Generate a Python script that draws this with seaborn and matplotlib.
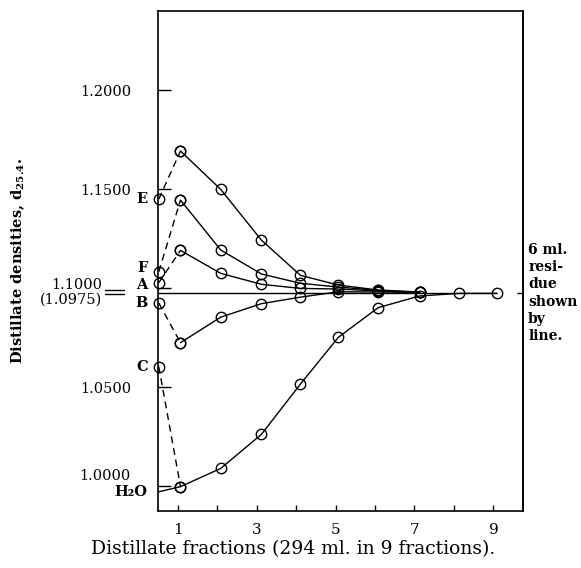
import matplotlib
matplotlib.use('Agg')
import matplotlib.pyplot as plt
import matplotlib.transforms as mtransforms
from matplotlib.lines import Line2D
import pandas as pd
import seaborn as sns

# --- values ---
fractions = [1.07, 2.09, 3.12, 4.11, 5.07, 6.08, 7.13, 8.13, 9.09]
start_x = 0.52  # the original samples sit on the axis
curve_names = ['E', 'F', 'A', 'B', 'C']
start_density = [1.1449, 1.1082, 1.1027, 1.0924, 1.0603]
dens_E = [1.1692, 1.1498, 1.1242, 1.1064, 1.1015, 1.0990, 1.0980]
dens_F = [1.1444, 1.1192, 1.1071, 1.1024, 1.1005, 1.0988, 1.0978]
dens_A = [1.1190, 1.1074, 1.1019, 1.0998, 1.0995, 1.0985, 1.0978]
dens_B = [1.0724, 1.0853, 1.0921, 1.0954, 1.0981, 1.0980, 1.0978]
dens_C = [0.9997, 1.0089, 1.0261, 1.0515, 1.0751, 1.0901, 1.0960, 1.0973, 1.0973]
water_density = 0.9971
residue_density = 1.0975
ytick_values = [1.0000, 1.0500, 1.1000, 1.1500, 1.2000]
ytick_labels = ['1.0000', '1.0500', '1.1000', '1.1500', '1.2000']
xtick_values = [1, 2, 3, 4, 5, 6, 7, 8, 9]
xtick_labels = ['1', '', '3', '', '5', '', '7', '', '9']

# --- long tables for seaborn ---
curves = [dens_E, dens_F, dens_A, dens_B, dens_C]
solid_rows, dash_rows = [], []
for name, s0, vals in zip(curve_names, start_density, curves):
    for x, v in zip(fractions, vals):
        solid_rows.append({'curve': name, 'fraction': x, 'density': v})
    dash_rows.append({'curve': name, 'fraction': start_x, 'density': s0})
    dash_rows.append({'curve': name, 'fraction': fractions[0], 'density': vals[0]})
solid_df = pd.DataFrame(solid_rows)
dash_df = pd.DataFrame(dash_rows)

sns.set_style('ticks')
plt.rcParams['font.family'] = ['DejaVu Serif', 'DejaVu Sans']
plt.rcParams['mathtext.fontset'] = 'dejavuserif'
for key in ['text.color', 'axes.labelcolor', 'xtick.color', 'ytick.color', 'axes.edgecolor']:
    plt.rcParams[key] = 'black'

fig = plt.figure(figsize=(5.81, 5.68), dpi=100)
ax = fig.add_axes([158 / 581, 57 / 568, 365 / 581, 500 / 568])

line_kw = dict(color='black', lw=1.0, clip_on=False, legend=False, ax=ax)
mark_kw = dict(marker='o', ms=7.5, mfc='none', mec='black', mew=1.0)

# residue line
ax.hlines(residue_density, 0.5, fractions[-1], color='black', lw=1.0)

sns.lineplot(data=solid_df, x='fraction', y='density', units='curve',
             estimator=None, **line_kw, **mark_kw)
sns.lineplot(data=dash_df, x='fraction', y='density', units='curve',
             estimator=None, linestyle=(0, (5, 3.5)), **line_kw, **mark_kw)
sns.lineplot(x=[start_x, fractions[0]], y=[water_density, dens_C[0]], **line_kw)

ax.set_xlim(0.5, 9.75)
ax.set_ylim(0.9874, 1.2399)
ax.set_xticks(xtick_values, xtick_labels)
ax.set_yticks(ytick_values, ytick_labels)
ax.tick_params(axis='y', direction='in', length=9.5, width=1, pad=19.5, labelsize=10.5)
ax.tick_params(axis='x', direction='in', length=4.3, width=1, pad=8.5, labelsize=11)
for sp in ax.spines.values():
    sp.set_linewidth(1.2)

sec = ax.secondary_yaxis('right')
sec.set_yticks([residue_density], [''])
sec.tick_params(direction='in', length=4.5, width=1)
sec.spines['right'].set_linewidth(1.2)

ax.set_xlabel('Distillate fractions (294 ml. in 9 fractions).', fontsize=13.5)
ax.xaxis.set_label_coords(0.37, -0.058)
ax.set_ylabel(r'Distillate densities, $\mathbf{d_{25.4}}$.', fontsize=10.5, fontweight='bold')
ax.yaxis.set_label_coords(-0.36, 0.5)

# shift the two crowded tick labels
fig.canvas.draw()
shifts = {'1.1000': (-29, 5), '1.0000': (0, 12)}
for lab in ax.get_yticklabels():
    if lab.get_text() in shifts:
        dx, dy = shifts[lab.get_text()]
        lab.set_transform(lab.get_transform() +
                          mtransforms.ScaledTranslation(dx / 100, dy / 100, fig.dpi_scale_trans))

# letters for the original samples
letter_dy = {'E': 0, 'F': 3, 'A': -2, 'B': 0, 'C': 0}
for name, s0 in zip(curve_names, start_density):
    ax.annotate(name, (start_x, s0), xytext=(-8, letter_dy[name]), textcoords='offset points',
                ha='right', va='center', fontsize=10.5, fontweight='bold')
ax.annotate('H₂O', (start_x, water_density), xytext=(-8, 0), textcoords='offset points',
            ha='right', va='center', fontsize=10.5, fontweight='bold')

blend = mtransforms.blended_transform_factory(ax.transAxes, ax.transData)
ax.text(0, residue_density, '(1.0975)', ha='right', va='center', fontsize=10.5,
        transform=blend + mtransforms.ScaledTranslation(-56 / 100, -7 / 100, fig.dpi_scale_trans))
for yy in (290, 293.5):
    fig.add_artist(Line2D([105 / 581, 124 / 581], [(568 - yy) / 568] * 2,
                          transform=fig.transFigure, color='black', lw=1.0))

ax.text(1.014, residue_density, '6 ml.\nresi-\ndue\nshown\nby\nline.', transform=blend,
        ha='left', va='center', fontsize=10, fontweight='bold', linespacing=1.28)

fig.savefig('out.png', dpi=100)
